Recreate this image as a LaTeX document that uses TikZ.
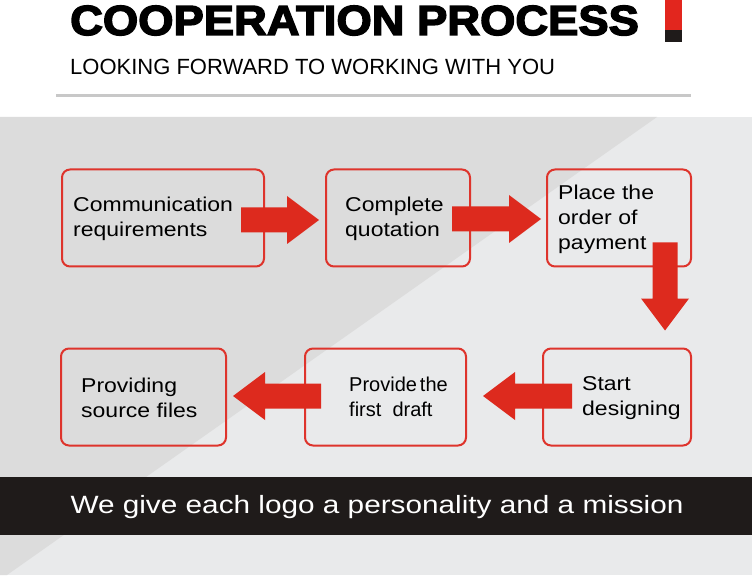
\documentclass[tikz,border=0pt]{standalone}
\usepackage{fontspec}
\setmainfont{Liberation Sans}
\newfontfamily\titlefont[FakeStretch=1.08,FakeBold=3.5]{Liberation Sans}
\newfontfamily\boxfont[FakeStretch=1.15]{Liberation Sans}
\newfontfamily\mottofont[FakeStretch=1.19]{Liberation Sans}
\usepackage{tikz}
\usetikzlibrary{positioning,calc}
\definecolor{panellight}{RGB}{233,234,235}
\definecolor{paneldark}{RGB}{220,220,220}
\definecolor{rulegray}{RGB}{200,200,200}
\definecolor{flowred}{RGB}{221,42,30}
\definecolor{edgered}{RGB}{222,52,44}
\definecolor{barred}{RGB}{226,38,30}
\definecolor{bandblack}{RGB}{31,27,26}

% block arrow: tail point, direction, length
\newcommand\flowarrow[3]{%
  \fill[flowred,shift={(#1)},rotate=#2]
    (0,-12.5) -- (#3-32,-12.5) -- (#3-32,-24) -- (#3,0)
    -- (#3-32,24) -- (#3-32,12.5) -- (0,12.5) -- cycle;}

\tikzset{
  processbox/.style={draw=edgered,line width=2pt,rounded corners=8pt,
    minimum height=97pt,inner sep=0pt},
  steptext/.style={anchor=west,align=left,inner sep=0pt,
    font=\boxfont\fontsize{20}{25}\selectfont}
}

\begin{document}
\begin{tikzpicture}[x=1pt,y=-1pt]
  \useasboundingbox (0,0) rectangle (752,577);
  \fill[white] (0,0) rectangle (752,577);

  % heading
  \node[anchor=base west,inner sep=0pt,font=\titlefont\bfseries\fontsize{42}{42}\selectfont]
    (title) at (70,35) {COOPERATION PROCESS};
  \fill[barred] (665,0) rectangle (682,30);
  \fill[bandblack] (665,30) rectangle (682,42);
  \node[anchor=base west,inner sep=0pt,font=\fontsize{22}{22}\selectfont]
    (subtitle) at (70,75) {LOOKING FORWARD TO WORKING WITH YOU};
  \draw[rulegray,line width=3pt] (56,96) -- (691,96);

  % panel
  \fill[panellight] (0,117) rectangle (752,575);
  \fill[paneldark] (0,117) -- (657,117) -- (7,575) -- (0,575) -- cycle;

  % steps
  \node[processbox,minimum width=202pt] (comm)   at (163,218) {};
  \node[processbox,minimum width=144pt] (quote)  at (398,218) {};
  \node[processbox,minimum width=144pt] (order)  at (619,218) {};
  \node[processbox,minimum width=165pt] (source) at (143.5,397) {};
  \node[processbox,minimum width=161pt] (draft)  at (385.5,397) {};
  \node[processbox,minimum width=148pt] (design) at (617,397) {};

  \node[steptext] at ($(comm.west)+(12,1)$)   {Communication\\requirements};
  \node[steptext] at ($(quote.west)+(20,1)$)  {Complete\\quotation};
  \node[steptext] at ($(order.west)+(12,1)$)  {Place the\\order of\\payment};
  \node[steptext] at ($(source.west)+(21,1)$) {Providing\\source files};
  \node[steptext,font=\fontsize{20}{25}\selectfont] at ($(draft.west)+(45,0)$)
    {Provide\hspace{0.15em}the\\first\ \ draft};
  \node[steptext] at ($(design.west)+(40,1)$) {Start\\designing};

  % arrows
  \flowarrow{$(comm.east)+(-24,2)$}{0}{78}
  \flowarrow{$(quote.east)+(-19,1)$}{0}{89}
  \flowarrow{$(order.south)+(46,-25)$}{-90}{88}
  \flowarrow{$(design.west)+(30,-1)$}{180}{89}
  \flowarrow{$(draft.west)+(17,-1)$}{180}{88}

  % bottom band
  \fill[bandblack] (0,477) rectangle (752,535);
  \node[inner sep=0pt,font=\mottofont\fontsize{25}{25}\selectfont,text=white]
    (motto) at (377,507) {We give each logo a personality and a mission};
\end{tikzpicture}
\end{document}
